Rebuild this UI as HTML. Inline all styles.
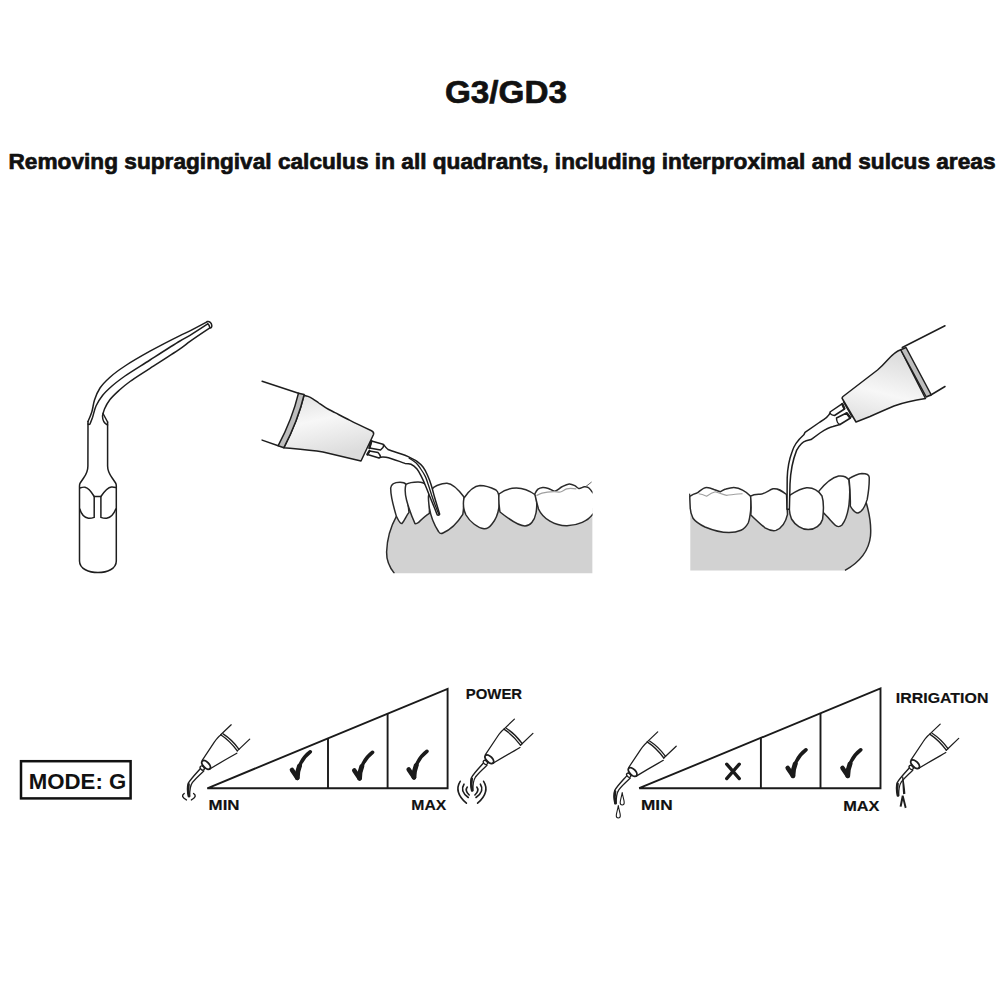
<!DOCTYPE html>
<html><head><meta charset="utf-8">
<style>
html,body{margin:0;padding:0;background:#fff;width:1000px;height:1000px;overflow:hidden}
svg{position:absolute;left:0;top:0;display:block}
text{font-family:"Liberation Sans",sans-serif;font-weight:bold;fill:#111;stroke:#111;stroke-width:0.7px;stroke-linejoin:round}
.t2{stroke-width:0.15px}
</style></head><body>
<svg width="1000" height="1000" viewBox="0 0 1000 1000">
<defs>
<linearGradient id="cone2" x1="0" y1="0" x2="0.3" y2="1">
<stop offset="0" stop-color="#dedede"/><stop offset="0.45" stop-color="#f7f7f7"/><stop offset="1" stop-color="#dcdcdc"/>
</linearGradient>
<linearGradient id="cone3" x1="0.3" y1="0" x2="0" y2="1">
<stop offset="0" stop-color="#dedede"/><stop offset="0.5" stop-color="#f7f7f7"/><stop offset="1" stop-color="#dcdcdc"/>
</linearGradient>
<clipPath id="clip2"><rect x="380" y="470" width="212.6" height="103.4"/></clipPath>
</defs>

<g fill="none" stroke="#1e1e1e" stroke-width="1.5" stroke-linecap="round" stroke-linejoin="round">
<path d="M207.4 321.7 C207.4 321.7 195.0 328.4 190.0 330.9 C186.2 332.8 184.2 333.5 180.0 335.6 C172.7 339.2 159.5 345.9 150.0 351.2 C141.2 356.1 132.2 361.2 125.0 366.0 C119.2 369.8 114.3 373.3 110.0 377.2 C106.1 380.7 102.6 384.1 100.0 388.0 C97.5 391.7 95.9 395.9 94.5 400.0 C93.2 403.9 93.0 408.3 91.8 412.0 C90.7 415.4 88.0 421.5 88.0 421.5"/>
<path d="M207.7 323.9 C207.7 323.9 195.1 332.2 190.0 335.3 C186.2 337.6 184.2 338.5 180.0 341.0 C172.6 345.4 159.5 353.9 150.0 360.0 C141.3 365.6 131.9 371.2 125.0 376.0 C119.9 379.6 115.9 382.6 112.0 386.0 C108.5 389.1 105.2 392.1 102.5 395.5 C99.9 398.8 97.7 402.3 96.0 406.0 C94.4 409.6 93.6 414.2 92.5 417.5 C91.6 420.0 90.0 424.0 90.0 424.0 C89.5 424.5 88.5 424.5 88 424"/>
<path d="M209.9 327.8 C209.9 327.8 195.1 337.6 190.0 341.3 C186.6 343.7 185.5 345.0 181.8 347.6 C174.7 352.6 159.4 362.2 150.0 368.3 C142.6 373.2 135.5 377.5 130.0 381.5 C125.9 384.5 122.8 387.0 119.5 390.0 C116.2 393.0 112.6 396.2 110.0 399.5 C107.7 402.5 105.8 406.0 104.5 409.0 C103.5 411.4 102.5 416.0 102.5 416.0 C102.5 420 104 423.5 107.6 425"/>
<path d="M103 413.5 L107.6 422"/>
<path d="M207.2 321.6 C209.5 321 211.5 323 211.8 325.3 C212 327.2 211 328.2 209.9 327.8 M207.7 323.9 C208.5 324 209.5 326 209.9 327.8"/>
<path d="M88 421.5 L87.9 466 C87.9 470 86.5 474 83.6 478 L80.2 483 C79.7 483.8 79.5 484.5 79.5 486 L79.5 561 C79.5 569 89 572.5 98 572.5 C107 572.5 116.3 569 116.3 561 L116.3 486 C116.3 484.5 116.1 483.8 115.6 483 L112.2 478 C109.3 474 107.6 470 107.6 466 L107.6 422"/>
<path d="M79.8 488 C82 487.3 84 487 85 487.2 C88 487.8 91.5 492 94.2 496.5 L94.2 517.4 C92 518.2 90 518.5 88.4 518.3 C84.5 517.5 81.5 515 79.8 509"/>
<path d="M115.8 487.6 C113.5 487 112 487 111.4 487.1 C108 487.6 104 492 100.9 496.5 L100.9 517.4 C103 518.2 105 518.5 106.6 518.3 C110.5 517.5 113.5 515 115.8 509"/>
<path d="M94.2 496.5 L100.9 496.5"/>
</g>

<g clip-path="url(#clip2)" stroke="#2b2b2b" stroke-width="1.5" stroke-linejoin="round">
<path d="M396.4 516.4 C391 526 387 540 386.6 552 C386.4 561 390 568 394.4 573.4 L592.6 573.4 L592.6 508 L400 508 Z" fill="#d2d2d2" stroke="none"/>
<path d="M396.4 516.4 C391 526 387 540 386.6 552 C386.4 561 390 568 394.4 573.4" fill="none"/>
<path d="M396.4 516.4 C393 505 390.6 495 390.7 488 C391 484 394 482.3 400 482.2 C403 482.2 405 483 406 484.3 L409 512.5 C406.5 515 404.5 521 401.8 523.6 C399.5 523.6 398 519 396.4 516.4 Z" fill="#fff"/>
<path d="M406 484.3 C409 482.5 414 481.9 418 481.9 C421 481.9 424 482.5 426 485 C428 489 429 492 429.5 496 L429.4 513.4 C425 516 421 520 418.6 522.4 C417 523.5 416 524 415 523.6 C412 517 409 509 406.6 500.2 C405 494 404.5 489 406 484.3 Z" fill="#fff"/>
<path d="M428.5 496 C430 490 433 487 437 485.5 C441 484 444 483 447 483.2 C452 483.5 458 489 464 497 C464 503 463.5 510 462.8 514.4 C458 522 450 530 443 533 C441 534 439.5 533.5 438.5 531.5 C433 523 430 514 429 505 C428.5 501 428.3 498 428.5 496 Z" fill="#fff"/>
<path d="M464 498 C468 492 474 486 480 485.5 C486 485.5 492 488 496 490 C499 492.5 499.5 498 499.3 503 C499 510 497 518 492 524 C489 528 486 529 484 528.8 C478 528 470 522 466 515 C463.5 510 463 503 464 498 Z" fill="#fff"/>
<path d="M499 494 C505 489 511 488 516.4 488 C523 488 530 491 535.5 495 C537 500 537 507 536 513 C534.5 521 530 526 525 526 C519 526 510 520 500 512 C499 506 498.5 500 499 494 Z" fill="#fff"/>
<path d="M534.8 494.0 C534.8 494.0 536.6 490.3 538.0 489.2 C539.3 488.2 541.1 487.8 542.8 487.6 C544.6 487.4 546.5 487.9 548.4 488.4 C550.5 489.0 552.6 491.3 554.8 491.2 C557.2 491.0 559.5 488.0 562.0 486.8 C564.3 485.6 566.9 484.1 569.2 484.0 C571.2 483.9 573.1 484.8 574.8 485.6 C576.3 486.3 577.3 488.1 578.8 488.4 C580.5 488.7 582.7 486.9 584.4 486.8 C585.8 486.7 587.2 486.9 588.4 487.6 C589.7 488.3 590.6 490.1 591.6 491.2 C592.5 492.2 594.0 494.0 594.0 494.0 L597 494 L597 512 L593 514 C588 521 578 525.5 567 525.8 C555 526 543 519 538.5 509 C537 504 536 499 534.8 494 Z" fill="#fff"/>
<path d="M536.4 495.6 C536.4 495.6 539.7 493.8 542.0 493.2 C545.2 492.3 550.6 491.7 554.0 491.6 C556.5 491.5 558.3 492.4 560.4 492.0 C562.6 491.6 564.4 489.4 566.8 488.8 C569.6 488.1 576.4 488.8 576.4 488.8" fill="none" stroke="#a0a0a0" stroke-width="1.2"/>
<path d="M586 486.4 L591.6 482" fill="none" stroke="#666" stroke-width="1"/>
</g>
<g stroke="#1e1e1e" stroke-width="1.5" stroke-linejoin="round" stroke-linecap="round">
<path d="M262.1 381.3 L298.5 393.2 M262.1 440.1 L278.2 445.7" fill="none"/>
<path d="M304.1 395.2 C304.1 395.2 306.7 395.9 308.0 396.4 C309.5 397.0 311.1 397.8 312.8 398.8 C314.7 399.9 316.7 401.6 318.8 403.0 C321.1 404.6 323.4 406.3 326.0 407.8 C328.8 409.5 331.6 410.8 335.0 412.6 C339.4 414.9 344.5 417.7 350.0 420.4 C356.5 423.7 371.5 430.8 371.5 430.8 C373.5 431.8 374 433 373.5 434.5 L361 461 L323 452 C310 450 297 449 283.8 447.8 C292 432 300 412 304.1 395.2 Z" fill="url(#cone2)"/>
<path d="M298.5 393.2 L304.1 394.6 C300 412 292 432 283.8 447.8 L278.2 445.7 C286 431 294 412 298.5 393.2 Z" fill="#bdbdbd"/>
<path d="M383.5 444.5 C385 446.5 386 448 388 449.5 C392 451 397 452.5 405 455.2 L408.2 456.6  C408.2 456.6 414.4 459.6 417.0 461.4 C419.3 463.1 421.3 464.8 423.0 467.0 C424.8 469.3 426.1 472.1 427.4 475.0 C428.8 478.1 430.1 481.5 431.2 485.0 C432.4 488.8 433.3 492.7 434.5 497.0 C436.0 502.2 439.6 514.0 439.6 514.0 C439.8 515 438 515.5 437.2 514.75  C437.2 514.8 435.2 509.6 434.0 506.7 C432.5 503.1 430.6 498.6 429.1 494.8 C427.7 491.4 426.5 488.0 425.2 485.0 C424.1 482.3 423.1 480.0 421.8 477.4 C420.4 474.6 418.9 471.3 417.0 469.0 C415.3 467.0 413.1 465.1 411.0 464.2 C409.1 463.4 405.0 463.4 405.0 463.4 C398 461 392 458.5 386 457.2 C383.5 457 381.5 457 380.5 457.3" fill="#fff"/>
<path d="M371.5 441 L383 444.3 C384 445 383.5 446.5 383 447.5 L380.5 450 L369.5 448 Z" fill="#fff"/>
<path d="M369.5 451 L378 452.5 C379 453.5 380.5 456 380.5 457.3 L379 458 L367.5 454.5 Z" fill="#fff"/>
<path d="M371.3 441.2 L369.4 448 M369.4 451 L367.4 454.4" fill="none" stroke-width="2.4"/>
<path d="M409.2 458.2 C409.2 458.2 414.2 461.1 416.2 463.0 C418.1 464.8 419.3 466.8 420.8 469.0 C422.4 471.3 424.1 473.9 425.4 476.6 C426.7 479.3 427.4 482.1 428.4 485.0 C429.5 488.2 430.6 491.9 431.6 495.0 C432.5 497.7 433.2 499.8 434.2 502.5 C435.4 505.9 438.6 513.8 438.6 513.8" fill="none" stroke-width="1.3"/>

</g>

<g stroke="#2b2b2b" stroke-width="1.5" stroke-linejoin="round">
<path d="M690.3 512 L866 502 C869 512 871.5 524 870.5 536 C869 550 860 562 845 570.4 L690.3 570.4 Z" fill="#d2d2d2" stroke="none"/>
<path d="M866 502 C869 512 871.5 524 870.5 536 C869 550 860 562 845 570.4" fill="none"/>
<path d="M689.8 496.4 C693 494 695 493.5 697 493 C700 491 703 487.4 706.6 487.4 C709 487.4 712 488.6 714 489.5 L720.2 491.8 C722 491 724 489.4 726 489 C729 488 731 487.4 733.8 487.4 C737 487.4 740 488.5 742.6 490.2 C746 492 748.5 494 750.6 496.2 C751.2 501 751 506 750.6 511 C750 516 749.5 520 748.2 523 C746 527 744 529 741 530.2 C737 532 733 532.6 729 532.6 C721 532.5 711 529.5 705 527 C699 524 695 521 693 518.2 C691 514 690.2 510 690.2 507 C690 503 689.8 499 689.8 496.4 Z" fill="#fff"/>
<path d="M689.8 496.4 L689.6 493.6" fill="none" stroke-width="1.1"/>
<path d="M698.6 493.8 C701 494 704 495 706.6 496.2 C709 494.5 712 492.5 715.4 491.8 C719 493 723 494.5 726.6 495.4 C731 495 737 494 742.6 493.8" fill="none" stroke="#a0a0a0" stroke-width="1.1"/>
<path d="M750.6 496.2 C753 494.5 756 494 760 494.2 C765 494 769 490 773 488.8 C778 488 782 491 786.5 494.5 L787.5 514.4 C786 521 782 528 776 530.4 C772 531.5 769 530 765 527.8 C760 524 755 519 750.8 515 C751.2 510 751.2 502 750.6 496.2 Z" fill="#fff"/>
<path d="M818.5 491.6 C823 486 830 478 838.6 476 C843 475.5 847 477 849 480 C850 488 850 496 849 504.6 C848 512 846 520 842 525 C840 527 837 527 835 525 C831 521 827 516 823 512.4 C823 506 822 498 818.5 491.6 Z" fill="#fff"/>
<path d="M849 478.6 C853 476 857 474 862 473.4 C866 473.4 869 474.5 869.2 477 C869.5 484 868.5 492 867.2 499.4 C865.5 505 862 512 858 513 C855 513 852 509 850.3 506 C850.5 497 850 487 849 478.6 Z" fill="#fff"/>
<path d="M789.5 495.5 C795 492 800 488.5 806.6 487.8 C812 487.5 818 490 822 496 C823.6 501 823.5 512 822.6 519.2 C821 525 815 529.6 808.2 529.6 C802 529.6 795 525 791.5 519 C789 513 788.5 505 789.5 495.5 Z" fill="#fff"/>
</g>
<g stroke="#1e1e1e" stroke-width="1.5" stroke-linejoin="round" stroke-linecap="round">
<path d="M945 325.75 L902.25 347.5 M945 386.5 L930 395.5" fill="none"/>
<path d="M900.75 349.75 C897 351 893 354 888 359.5 C884 364 881 367 877.5 370 L843 396.5 C842 397.5 842 398.5 842.5 399 L856 422 L870 416.5 C880 412 887 409 894 406 C905 402 915 400 925.5 398.5 Z" fill="url(#cone3)"/>
<path d="M900.75 349.75 L906 347.5 L931.2 394.75 L926.25 397 Z" fill="#bdbdbd"/>
<path d="M843.5 402 L852 417" fill="none" stroke-width="1.2"/>
<path d="M830 413 C829 416 825 419 820 422 L805 432.4 L803.8 434.8 C798 440 794 445 792 452 C789 460 787.5 468 787.2 478 L787 509.2 L789.4 509.2 L790 484 C790.5 472 792 462 796.6 450.4 C799 446 802 442 806.2 440.8 L811 439.6 L820 433 C826 429 830 427 833 426.5 L840 424.5" fill="#fff"/>
<path d="M830 412 L842 403.8 L844.5 409 L834.5 415.5 C832 415.5 830 414 830 412 Z" fill="#fff"/>
<path d="M836.5 418 L846.5 413 L850.5 418 L840 424.5 C838 424 836.5 421 836.5 418 Z" fill="#fff"/>
<path d="M842.3 404 L844.3 408.5 M846.8 413.3 L850 417.5" fill="none" stroke-width="2.4"/>
</g>

<defs><g id="hp" fill="none" stroke="#1e1e1e" stroke-linecap="round" stroke-linejoin="round">
<path d="M514.4 719.1 L503.9 729.1 M532.9 733.4 L520.5 745.2" stroke-width="1.25"/>
<path d="M503.9 729.1 Q513 735 520.5 745.2 M506.3 728.2 Q515.3 734 522.2 743.6" stroke-width="1.35"/>
<path d="M503.6 729.6 C501.5 731 500 733 497.5 736.5 L485.4 754.7 M520 747.5 C516 750 510 753 493 763.3" stroke-width="1.25"/>
<ellipse cx="489.3" cy="759.2" rx="5.4" ry="2.9" transform="rotate(45 489.3 759.2)" stroke-width="1.9"/>
<ellipse cx="485.4" cy="762.4" rx="2.4" ry="1.7" transform="rotate(45 485.4 762.4)" stroke-width="1.3"/>
<path d="M483.2 763.3 C479 768 474 773 471.5 777.5 C470.3 781 470.5 786 471.6 790.8" stroke-width="1.4"/>
<path d="M487 765.3 C483 769 478.5 773 475.5 777 C473.5 780 472.8 785 472.9 790.5" stroke-width="1.3"/>
<path d="M471.9 778.5 C471.1 782 471.3 786.5 472.3 790.6" stroke-width="2.3"/>
</g>
<g id="wav" fill="none" stroke="#1e1e1e" stroke-width="1.4" stroke-linecap="round">
<path d="M467.4 787.8 Q463.2 790.8 469.6 794.2"/>
<path d="M476.8 787.8 Q481 790.8 474.6 794.2"/>
</g>
</defs>
<use href="#hp" x="-283.2" y="5.7"/>
<use href="#wav" x="-283.2" y="5.7"/>
<use href="#hp"/>
<g fill="none" stroke="#1e1e1e" stroke-width="1.6" stroke-linecap="round">
<path d="M467.3 787 Q464.5 790.5 469.2 795"/>
<path d="M476.8 787 Q479.6 790.5 474.9 795"/>
<path d="M464 784.2 Q459.5 791 468.3 797.5"/>
<path d="M480.4 784.2 Q484.9 791 476 797.5"/>
<path d="M460.2 781.3 Q453.5 792 466.4 803.2"/>
<path d="M483.6 781.3 Q490.3 792 477.6 803.2"/>
</g>
<use href="#hp" x="143.3" y="12.8"/>
<g fill="#fff" stroke="#1e1e1e" stroke-width="1.1" stroke-linejoin="round">
<path d="M622.2 792.5 C622.8 797 624.2 800 624.2 802.8 C624.2 804.3 623.3 805 622.2 805 C621.1 805 620.2 804.3 620.2 802.8 C620.2 800 621.6 797 622.2 792.5 Z"/>
<path d="M618.3 805.5 C618.9 810 620.3 813 620.3 815.8 C620.3 817.3 619.4 818 618.3 818 C617.2 818 616.3 817.3 616.3 815.8 C616.3 813 617.7 810 618.3 805.5 Z"/>
</g>
<use href="#hp" x="425.8" y="5"/>
<g fill="#1e1e1e" stroke="none">
<path d="M902.1 776.8 L903.2 776.6 C904.1 782 905 788 905.4 793.8 L903.1 794.2 C902.7 788 902.3 782 902.1 776.8 Z"/>
<path d="M901.8 795.6 L903.6 795.4 L906.6 807.6 L904.8 808.2 L902.9 800.5 L901.6 806.8 L899.6 806.4 Z"/>
</g>
<text x="445" y="103.3" font-size="32" textLength="122" lengthAdjust="spacingAndGlyphs">G3/GD3</text>
<text x="8.5" y="168.8" font-size="22.3" textLength="987" lengthAdjust="spacingAndGlyphs">Removing supragingival calculus in all quadrants, including interproximal and sulcus areas</text>
<rect x="21" y="761.2" width="109.6" height="37.2" fill="none" stroke="#111" stroke-width="2.5"/>
<text x="28.8" y="789" font-size="22.3" textLength="97.5" lengthAdjust="spacingAndGlyphs" style="stroke-width:0">MODE: G</text>
<g fill="none" stroke="#1a1a1a" stroke-width="1.9">
<path d="M207.3 788.3 L447.6 688.8 L447.6 788.3 Z"/>
<path d="M328 738.3 V788.3 M387.6 713.6 V788.3"/>
<path d="M639.2 788.2 L880.5 688.4 L880.5 788.2 Z"/>
<path d="M760.9 738 V788.2 M820.5 713.3 V788.2"/>
</g>
<text x="208.6" y="809.8" font-size="14.6" textLength="31" lengthAdjust="spacingAndGlyphs" class="t2">MIN</text>
<text x="411.3" y="810" font-size="14.6" textLength="35" lengthAdjust="spacingAndGlyphs" class="t2">MAX</text>
<text x="465.8" y="698.9" font-size="14" textLength="56.3" lengthAdjust="spacingAndGlyphs" class="t2">POWER</text>
<text x="641" y="810.4" font-size="14.6" textLength="31.6" lengthAdjust="spacingAndGlyphs" class="t2">MIN</text>
<text x="843.2" y="810.8" font-size="14.6" textLength="36.3" lengthAdjust="spacingAndGlyphs" class="t2">MAX</text>
<text x="895.8" y="702.8" font-size="14.6" textLength="92.6" lengthAdjust="spacingAndGlyphs" class="t2">IRRIGATION</text>
<defs>
<g id="chk" fill="none" stroke="#1a1a1a" stroke-linecap="round">
<path d="M0.7 0.5 L5.95 8.3" stroke-width="4.6"/>
<path d="M5.95 8.3 C5.85 -1.87 11 -11.77 19 -17.75" stroke-width="3.5"/>
<path d="M5.95 8.30 C5.91 4.23 6.71 0.21 8.20 -3.54" stroke-width="4.9"/>
</g>
</defs>
<use href="#chk" x="291.3" y="769.5"/>
<use href="#chk" x="353.6" y="770"/>
<use href="#chk" x="408" y="769"/>
<path d="M726.7 764.2 L739.3 778.6 M739.3 764.2 L726.7 778.6" fill="none" stroke="#1a1a1a" stroke-width="3.3" stroke-linecap="round"/>
<use href="#chk" x="787" y="767.5"/>
<use href="#chk" x="841.8" y="767.5"/>

</svg>
</body></html>
